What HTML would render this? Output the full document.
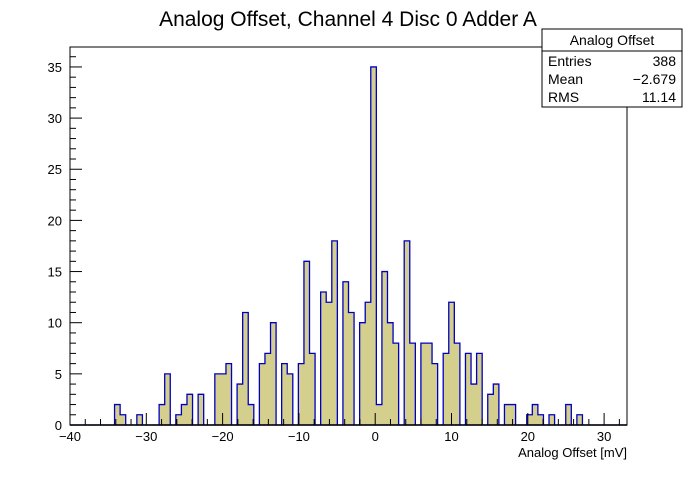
<!DOCTYPE html>
<html><head><meta charset="utf-8"><style>
body{margin:0;background:#fff;}
svg text{font-family:"Liberation Sans",sans-serif;}
</style></head><body>
<svg id="c" width="696" height="472" xmlns="http://www.w3.org/2000/svg">
<text x="348" y="26" font-size="21" text-anchor="middle">Analog Offset, Channel 4 Disc 0 Adder A</text>
<g id="bars"></g>
<rect x="70" y="47" width="557" height="378" fill="none" stroke="#000" stroke-width="1"/>
<g id="axes"></g>
<text x="627" y="457" font-size="13" text-anchor="end">Analog Offset [mV]</text>
<g>
<rect x="542" y="29" width="140" height="78" fill="#fff" stroke="#000"/>
<line x1="542" y1="51" x2="682" y2="51" stroke="#000"/>
<text x="612" y="45" font-size="14" text-anchor="middle">Analog Offset</text>
<text x="548" y="66" font-size="14">Entries</text><text x="676" y="66" font-size="14" text-anchor="end">388</text>
<text x="548" y="84" font-size="14">Mean</text><text x="676" y="84" font-size="14" text-anchor="end">−2.679</text>
<text x="548" y="102" font-size="14">RMS</text><text x="676" y="102" font-size="14" text-anchor="end">11.14</text>
</g>
</svg>
<script>
const binStart = -40, binWidth = 0.73;
const counts = [0,0,0,0,0,0,0,0,2,1,0,0,1,0,0,0,2,5,0,1,2,3,0,3,0,0,5,5,6,0,4,11,2,0,6,7,10,0,6,5,0,6,16,7,0,13,12,18,0,14,11,0,10,12,35,2,15,10,8,0,18,8,0,8,8,6,0,7,12,8,0,7,4,7,0,3,4,0,2,2,0,0,1,2,1,0,1,0,0,2,0,1,0,0,0,0,0,0,0,0];
const xTicks = [-40,-30,-20,-10,0,10,20,30];
const yTicks = [0,5,10,15,20,25,30,35];
const X0=70,X1=627,Y0=425,Y1=47,xmin=-40,xmax=33,ymax=36.95;
const sx=v=>X0+(v-xmin)/(xmax-xmin)*(X1-X0);
const sy=v=>Y0-v/ymax*(Y0-Y1);
const NS="http://www.w3.org/2000/svg";
const bars=document.getElementById('bars');
let d="M"+sx(binStart)+","+Y0;
counts.forEach((c,i)=>{
  const a=sx(binStart+i*binWidth), b=sx(binStart+(i+1)*binWidth);
  d+=" L"+a+","+sy(c)+" L"+b+","+sy(c);
});
d+=" L"+sx(binStart+counts.length*binWidth)+","+Y0+" Z";
const p=document.createElementNS(NS,'path');
p.setAttribute('d',d);p.setAttribute('fill','#d4cf8c');p.setAttribute('stroke','#0000c0');p.setAttribute('stroke-width','1.3');


bars.appendChild(p);
const ax=document.getElementById('axes');
function line(x1,y1,x2,y2){const l=document.createElementNS(NS,'line');l.setAttribute('x1',x1);l.setAttribute('y1',y1);l.setAttribute('x2',x2);l.setAttribute('y2',y2);l.setAttribute('stroke','#000');ax.appendChild(l);return l;}
function txt(x,y,s,anchor){const t=document.createElementNS(NS,'text');t.setAttribute('x',x);t.setAttribute('y',y);t.setAttribute('font-size','13');t.setAttribute('text-anchor',anchor);t.textContent=s;ax.appendChild(t);return t;}
const base=line(X0,Y0,X1,Y0);base.setAttribute('stroke-width','1.5');
for(let v=-40;v<=33;v+=2){const x=sx(v);const len=v%10===0?12:6;line(x,Y0,x,Y0-len);}
xTicks.forEach(v=>{const t=txt(sx(v),441,String(v).replace('-','−'),'middle');

});
for(let v=0;v<=36;v++){const y=sy(v);line(X0,y,X0+(v%5===0?12:6),y);}
yTicks.forEach(v=>{const t=txt(62,sy(v)+5,String(v),'end');

});
</script>
</body></html>
